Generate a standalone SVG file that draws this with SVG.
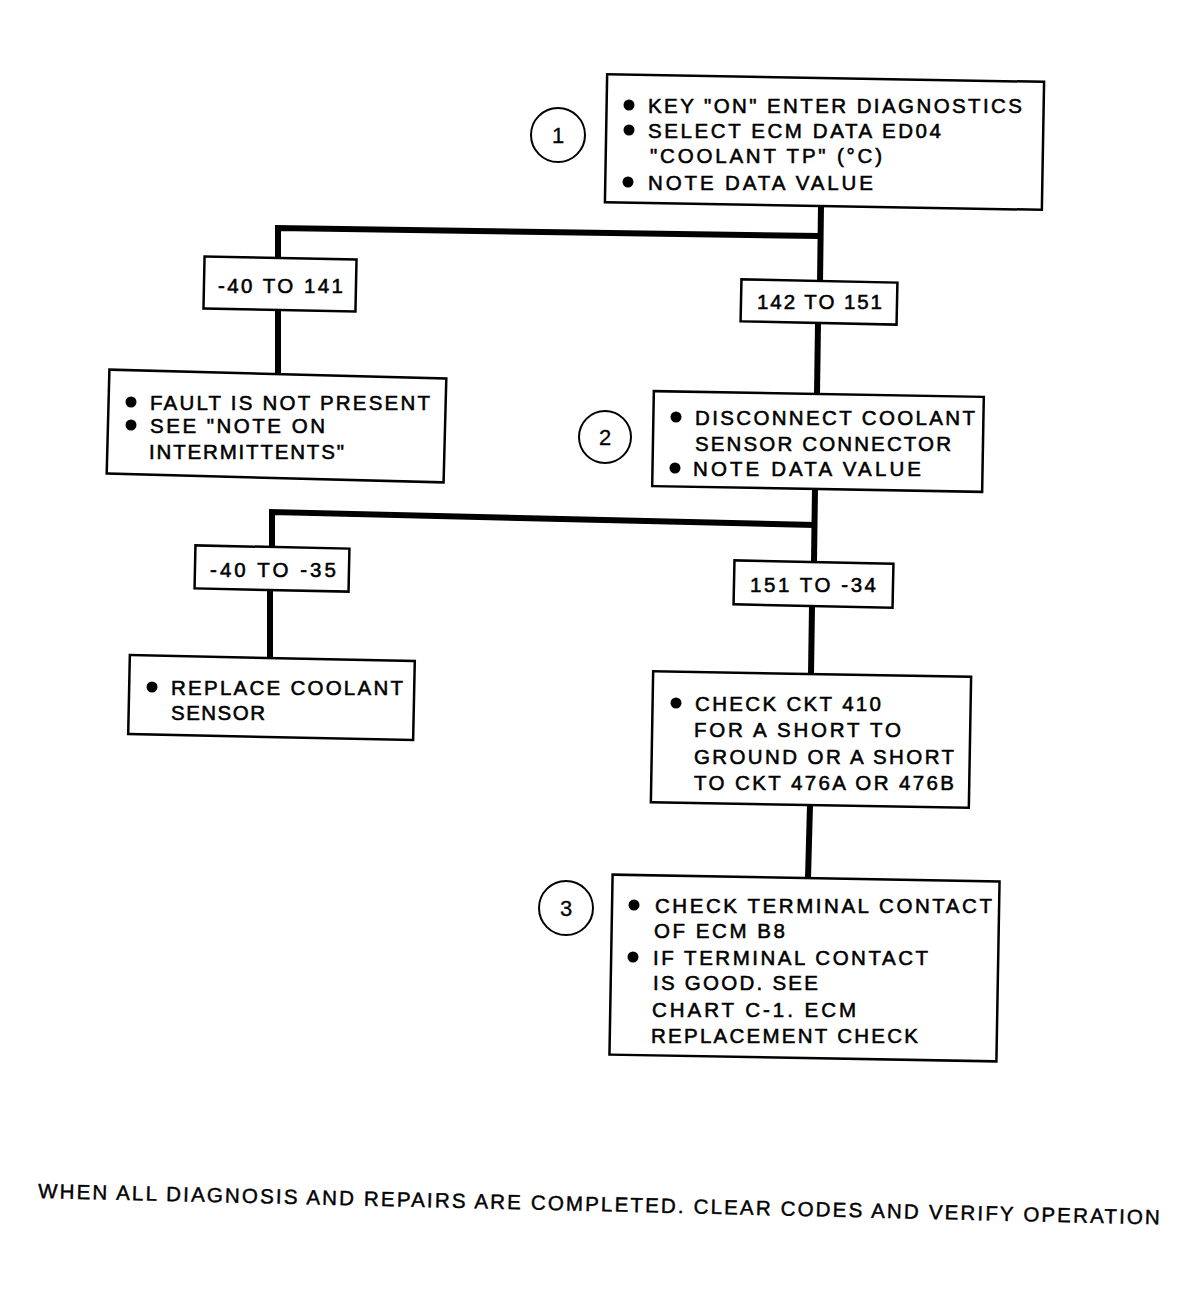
<svg xmlns="http://www.w3.org/2000/svg" width="1197" height="1302" viewBox="0 0 1197 1302">
<style>
  .box { fill: #fff; stroke: #000; stroke-width: 2.5; }
  .lbl { fill: #fff; stroke: #000; stroke-width: 2.5; }
  .num { fill: #fff; stroke: #000; stroke-width: 2; }
  .wire { fill: none; stroke: #000; stroke-width: 6; stroke-linejoin: miter; }
  text { font-family: "Liberation Sans", Arial, sans-serif; font-size: 20.5px; fill: #000; stroke: #000; stroke-width: 0.55; }
  .n { font-size: 22px; text-anchor: middle; stroke-width: 0.3; }
  .foot { font-size: 20.5px; stroke-width: 0.45; }
  .dot { fill: #000; }
</style>
<rect width="1197" height="1302" fill="#fff"/>

<g id="connectors">
  <path class="wire" d="M821,206 L820,283"/>
  <path class="wire" d="M820,236 L278,228 V258"/>
  <path class="wire" d="M278,310 V374"/>
  <path class="wire" d="M818,323 L817,394"/>
  <path class="wire" d="M815,489 L814,562"/>
  <path class="wire" d="M815,525 L272,512 V547"/>
  <path class="wire" d="M270,590 V658"/>
  <path class="wire" d="M812,606 L811,674"/>
  <path class="wire" d="M810,805 L808,878"/>
</g>

<g id="step1">
  <circle class="num" cx="558" cy="135" r="27"/>
  <text class="n" x="558" y="143">1</text>
  <rect class="box" x="606" y="78" width="437" height="128" transform="rotate(1 824 142)"/>
  <circle class="dot" cx="629" cy="105" r="5.5"/>
  <text x="648" y="113" textLength="374" lengthAdjust="spacing">KEY "ON" ENTER DIAGNOSTICS</text>
  <circle class="dot" cx="629" cy="130" r="5.5"/>
  <text x="648" y="138" textLength="293" lengthAdjust="spacing">SELECT ECM DATA ED04</text>
  <text x="650" y="163" textLength="232" lengthAdjust="spacing">"COOLANT TP" (°C)</text>
  <circle class="dot" cx="628" cy="182" r="5.5"/>
  <text x="648" y="190" textLength="225" lengthAdjust="spacing">NOTE DATA VALUE</text>
</g>

<g id="range-40-141">
  <rect class="lbl" x="204" y="258" width="152" height="52" transform="rotate(1.2 280 284)"/>
  <text x="218" y="293" textLength="125" lengthAdjust="spacing">-40 TO 141</text>
</g>

<g id="range-142-151">
  <rect class="lbl" x="741" y="281" width="156" height="42" transform="rotate(1.2 819 302)"/>
  <text x="757" y="309" textLength="125" lengthAdjust="spacing">142 TO 151</text>
</g>

<g id="fault-not-present">
  <rect class="box" x="108" y="374" width="337" height="104" transform="rotate(1.5 276 426)"/>
  <circle class="dot" cx="131" cy="402" r="5.5"/>
  <text x="150" y="410" textLength="280" lengthAdjust="spacing">FAULT IS NOT PRESENT</text>
  <circle class="dot" cx="131" cy="425" r="5.5"/>
  <text x="150" y="433" textLength="175" lengthAdjust="spacing">SEE "NOTE ON</text>
  <text x="149" y="459" textLength="195" lengthAdjust="spacing">INTERMITTENTS"</text>
</g>

<g id="step2">
  <circle class="num" cx="605" cy="437" r="26"/>
  <text class="n" x="605" y="445">2</text>
  <rect class="box" x="653" y="394" width="330" height="95" transform="rotate(1 818 441)"/>
  <circle class="dot" cx="676" cy="417" r="5.5"/>
  <text x="695" y="425" textLength="280" lengthAdjust="spacing">DISCONNECT COOLANT</text>
  <text x="695" y="451" textLength="256" lengthAdjust="spacing">SENSOR CONNECTOR</text>
  <circle class="dot" cx="675" cy="468" r="5.5"/>
  <text x="693" y="476" textLength="228" lengthAdjust="spacing">NOTE DATA VALUE</text>
</g>

<g id="range-40-35">
  <rect class="lbl" x="195" y="547" width="154" height="43" transform="rotate(1.2 272 568)"/>
  <text x="210" y="577" textLength="126" lengthAdjust="spacing">-40 TO -35</text>
</g>

<g id="range-151-34">
  <rect class="lbl" x="734" y="562" width="159" height="44" transform="rotate(1.2 813 584)"/>
  <text x="750" y="592" textLength="126" lengthAdjust="spacing">151 TO -34</text>
</g>

<g id="replace-sensor">
  <rect class="box" x="129" y="658" width="285" height="79" transform="rotate(1.2 271 697)"/>
  <circle class="dot" cx="152" cy="687" r="5.5"/>
  <text x="171" y="695" textLength="232" lengthAdjust="spacing">REPLACE COOLANT</text>
  <text x="171" y="720" textLength="94" lengthAdjust="spacing">SENSOR</text>
</g>

<g id="check-ckt">
  <rect class="box" x="652" y="674" width="318" height="131" transform="rotate(1 811 739)"/>
  <circle class="dot" cx="676" cy="703" r="5.5"/>
  <text x="695" y="711" textLength="186" lengthAdjust="spacing">CHECK CKT 410</text>
  <text x="694" y="737" textLength="207" lengthAdjust="spacing">FOR A SHORT TO</text>
  <text x="694" y="764" textLength="260" lengthAdjust="spacing">GROUND OR A SHORT</text>
  <text x="694" y="790" textLength="260" lengthAdjust="spacing">TO CKT 476A OR 476B</text>
</g>

<g id="step3">
  <circle class="num" cx="566" cy="908" r="27"/>
  <text class="n" x="566" y="916">3</text>
  <rect class="box" x="611" y="878" width="387" height="180" transform="rotate(1 804 968)"/>
  <circle class="dot" cx="634" cy="905" r="5.5"/>
  <text x="655" y="913" textLength="337" lengthAdjust="spacing">CHECK TERMINAL CONTACT</text>
  <text x="654" y="938" textLength="131" lengthAdjust="spacing">OF ECM B8</text>
  <circle class="dot" cx="633" cy="957" r="5.5"/>
  <text x="653" y="965" textLength="275" lengthAdjust="spacing">IF TERMINAL CONTACT</text>
  <text x="653" y="990" textLength="165" lengthAdjust="spacing">IS GOOD. SEE</text>
  <text x="652" y="1017" textLength="204" lengthAdjust="spacing">CHART C-1. ECM</text>
  <text x="651" y="1043" textLength="267" lengthAdjust="spacing">REPLACEMENT CHECK</text>
</g>

<g id="footer">
  <text class="foot" x="38" y="1198" textLength="1122" lengthAdjust="spacing" transform="rotate(1.35 38 1198)">WHEN ALL DIAGNOSIS AND REPAIRS ARE COMPLETED. CLEAR CODES AND VERIFY OPERATION</text>
</g>
</svg>
